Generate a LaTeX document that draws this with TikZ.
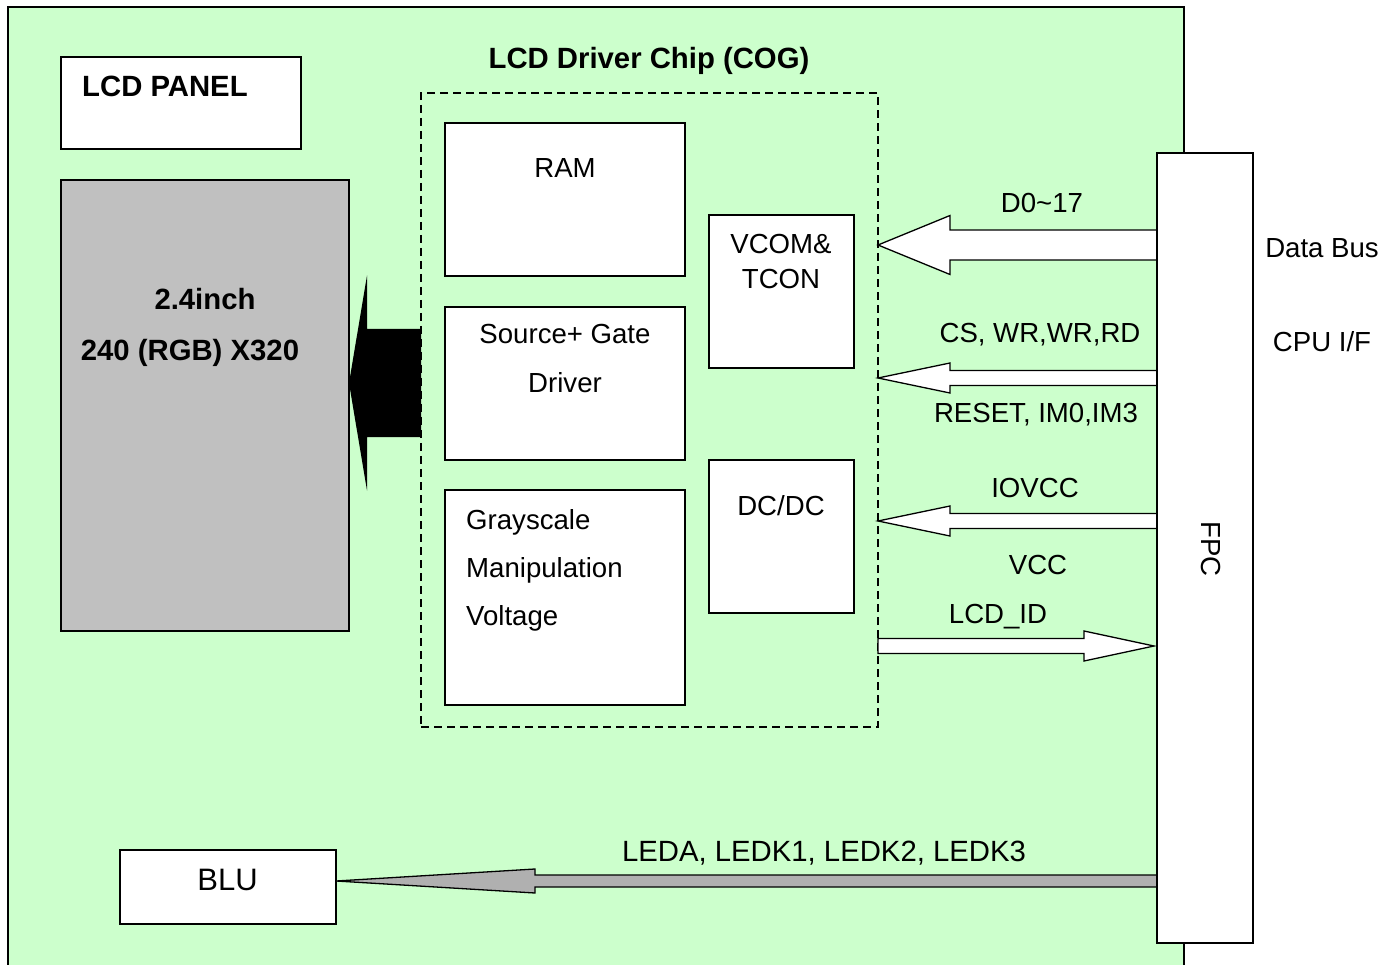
\documentclass[tikz,border=0pt]{standalone}
\usepackage{fontspec}
\setmainfont{Liberation Sans}
\usetikzlibrary{calc}
\definecolor{boardgreen}{HTML}{CCFFCC}
\definecolor{panelgray}{HTML}{C0C0C0}
\definecolor{ledgray}{HTML}{B0B0B0}

% block arrow: #1 tip, #2 tail, #3 half shaft width, #4 half head width, #5 head length, #6 style
\newcommand\blockarrow[6]{%
  \coordinate (hb) at ($(#1)!#5pt!(#2)$);
  \filldraw[#6] (#1) -- ($(hb)!#4pt!90:(#1)$) -- ($(hb)!#3pt!90:(#1)$)
    -- ($(#2)!#3pt!90:(hb)$) -- ($(#2)!#3pt!-90:(hb)$)
    -- ($(hb)!#3pt!-90:(#1)$) -- ($(hb)!#4pt!-90:(#1)$) -- cycle;}

\begin{document}
\begin{tikzpicture}[x=1pt,y=-1pt,
  box/.style={draw=black, line width=1.6pt, fill=white, inner sep=0pt, outer sep=0pt, anchor=north west},
  lbl/.style={font=\fontsize{27.6}{32}\selectfont, inner sep=0pt, anchor=base},
  blbl/.style={lbl, font=\fontsize{29.3}{34}\selectfont\bfseries},
  sig/.style={fill=white, draw=black, line width=1.3pt, line join=miter},
]
\useasboundingbox (0,0) rectangle (1397,965);

% board background
\fill[boardgreen] (8,7) rectangle (1184,970);
\draw[line width=1.8pt] (8,970) -- (8,7) -- (1184,7) -- (1184,970);

% panel side
\node[box, minimum width=240, minimum height=92] (panel) at (61,57) {};
\node[box, fill=panelgray, minimum width=288, minimum height=451] (screen) at (61,180) {};

% driver chip
\node[box, fill=none, dashed, dash pattern=on 8pt off 5pt, line width=1.3pt,
      minimum width=457, minimum height=634] (chip) at (421,93) {};
\node[box, minimum width=240, minimum height=153] (ram) at (445,123) {};
\node[box, minimum width=240, minimum height=153] (src) at (445,307) {};
\node[box, minimum width=240, minimum height=215] (gsv) at (445,490) {};
\node[box, minimum width=145, minimum height=153] (vcom) at (709,215) {};
\node[box, minimum width=145, minimum height=153] (dcdc) at (709,460) {};

% backlight
\node[box, minimum width=216, minimum height=74] (blu) at (120,850) {};

% connector end points
\coordinate (dbTip) at (chip.east |- 0,245);
\coordinate (dbTail) at (1157,245);
\coordinate (csTip) at (chip.east |- 0,378);
\coordinate (csTail) at (1157,378);
\coordinate (ioTip) at (chip.east |- 0,521);
\coordinate (ioTail) at (1157,521);
\coordinate (idTail) at (chip.east |- 0,646);
\coordinate (idTip) at (1154,646);
\coordinate (ledTip) at (blu.east |- 0,881);
\coordinate (ledTail) at (1157,881);
\coordinate (pxTip) at (screen.east |- 0,383);
\coordinate (pxTail) at (chip.west |- 0,383);

% signal arrows
\blockarrow{dbTip}{dbTail}{15}{29.5}{72}{sig}
\blockarrow{csTip}{csTail}{7.5}{15}{72}{sig}
\blockarrow{ioTip}{ioTail}{7.5}{15}{72}{sig}
\blockarrow{idTip}{idTail}{7.5}{15}{70}{sig}
\blockarrow{ledTip}{ledTail}{6}{12}{199}{sig, fill=ledgray}
\blockarrow{pxTip}{pxTail}{54}{107.5}{18}{fill=black, draw=none}

% flexible printed circuit
\node[box, minimum width=96, minimum height=790] (fpc) at (1157,153) {};

% labels
\node[blbl, anchor=base west] at (82,97) {LCD PANEL};
\node[blbl] at (205,310) {2.4inch};
\node[blbl] at (190,360) {240 (RGB) X320};
\node[blbl] at (649,69) {LCD Driver Chip (COG)};
\node[lbl] at (565,178) {RAM};
\node[lbl] at (565,344) {Source+ Gate};
\node[lbl] at (565,392) {Driver};
\node[lbl, anchor=base west] at (466,529) {Grayscale};
\node[lbl, anchor=base west] at (466,577) {Manipulation};
\node[lbl, anchor=base west] at (466,625) {Voltage};
\node[lbl] at (781,254) {VCOM\&};
\node[lbl] at (781,289) {TCON};
\node[lbl] at (781,515) {DC/DC};
\node[lbl] at (1042,213) {D0\textasciitilde 17};
\node[lbl] at (1040,343) {CS, WR,WR,RD};
\node[lbl] at (1036,422) {RESET, IM0,IM3};
\node[lbl] at (1035,497) {IOVCC};
\node[lbl] at (1038,574) {VCC};
\node[lbl] at (998,623) {LCD\_ID};
\node[lbl, font=\fontsize{29.3}{34}\selectfont] at (824,861) {LEDA, LEDK1, LEDK2, LEDK3};
\node[lbl, font=\fontsize{31}{36}\selectfont] at (227.5,890) {BLU};
\node[lbl] at (1322,258) {Data Bus};
\node[lbl] at (1322,352) {CPU I/F};
\node[lbl, anchor=center, rotate=-90] at (1211,549) {FPC};
\end{tikzpicture}
\end{document}
